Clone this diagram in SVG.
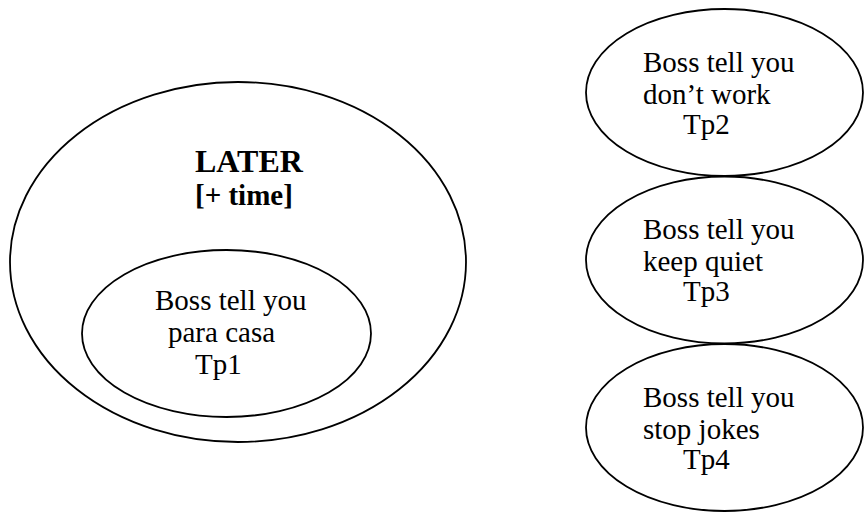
<svg xmlns="http://www.w3.org/2000/svg" width="864" height="514" viewBox="0 0 864 514">
<style>
.shape{fill:none;stroke:#000;stroke-width:1.8}
.t{font-family:"Liberation Serif","Times New Roman",serif;font-size:29px;fill:#000}
.b{font-weight:bold}
</style>
<rect width="864" height="514" fill="#fff"/>
<g id="later">
<ellipse class="shape" cx="238" cy="262" rx="228" ry="180"/>
<text class="t b" x="195" y="172" style="font-size:32px">LATER</text>
<text class="t b" x="195" y="205">[+ time]</text>
</g>
<g id="tp1">
<ellipse class="shape" cx="226.5" cy="333.5" rx="144.5" ry="83.5"/>
<text class="t" x="155" y="310">Boss tell you</text>
<text class="t" x="168" y="342">para casa</text>
<text class="t" x="195" y="374">Tp1</text>
</g>
<g id="tp2">
<ellipse class="shape" cx="724.5" cy="92.5" rx="138.5" ry="83.5"/>
<text class="t" x="643" y="72">Boss tell you</text>
<text class="t" x="643" y="104">don’t work</text>
<text class="t" x="683" y="134">Tp2</text>
</g>
<g id="tp3">
<ellipse class="shape" cx="724.5" cy="260" rx="138.5" ry="83.5"/>
<text class="t" x="643" y="239">Boss tell you</text>
<text class="t" x="643" y="271">keep quiet</text>
<text class="t" x="683" y="301">Tp3</text>
</g>
<g id="tp4">
<ellipse class="shape" cx="724.5" cy="427.5" rx="138.5" ry="83.5"/>
<text class="t" x="643" y="407">Boss tell you</text>
<text class="t" x="643" y="439">stop jokes</text>
<text class="t" x="683" y="469">Tp4</text>
</g>
<g id="connectors"></g>
</svg>
